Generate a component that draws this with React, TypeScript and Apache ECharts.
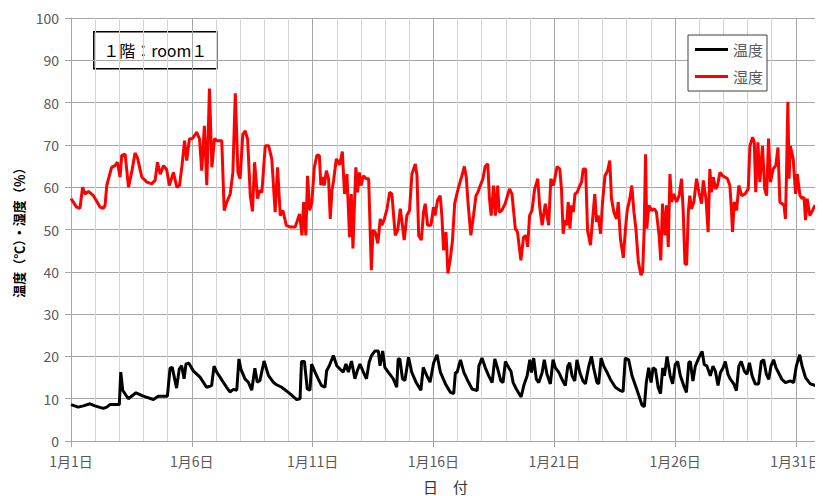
import React, { useEffect, useRef } from "react";
import * as echarts from "echarts";

// day offset from 1月1日 0:00, value
const HUMIDITY: [number, number][] = [
  [0, 57.3], [0.23, 55.3], [0.37, 55], [0.48, 60], [0.58, 58.4], [0.72, 59], [0.93, 58], [1.2, 55.3], [1.34, 55], [1.41, 55.7],
  [1.48, 60.4], [1.68, 64.7], [1.82, 65.1], [1.92, 65.9], [2.03, 62.4], [2.1, 67.5], [2.24, 67.8], [2.38, 60], [2.51, 63.5], [2.65, 68.1],
  [2.75, 67], [2.93, 62.4], [3.14, 61.2], [3.34, 60.8], [3.48, 61.6], [3.58, 65.9], [3.69, 63.1], [3.83, 65.1], [3.96, 64.2], [4.07, 60.4],
  [4.24, 63.5], [4.38, 60], [4.49, 60.4], [4.59, 64.9], [4.7, 71], [4.79, 66.3], [4.9, 71.4], [5.03, 71.5], [5.2, 73], [5.32, 71.4],
  [5.41, 63.9], [5.52, 74.5], [5.62, 60.5], [5.73, 83.3], [5.83, 64.7], [5.94, 71.5], [6.04, 71], [6.24, 71], [6.34, 54.5], [6.45, 56.5],
  [6.59, 58.4], [6.7, 63.5], [6.8, 82.2], [6.91, 63.5], [7.0, 62], [7.11, 72.5], [7.21, 73.3], [7.31, 71.4], [7.42, 58], [7.51, 54.3],
  [7.6, 65.9], [7.72, 57.3], [7.8, 59.2], [7.9, 58.8], [8.04, 69.8], [8.18, 69.8], [8.31, 66.7], [8.45, 54.1], [8.55, 64.7], [8.66, 53.3],
  [8.77, 54.5], [8.91, 51], [9.07, 50.6], [9.28, 50.6], [9.46, 53.7], [9.56, 48.6], [9.63, 56.5], [9.72, 48.6], [9.79, 62.7], [9.88, 54.5],
  [9.97, 56.5], [10.07, 64.7], [10.18, 67.6], [10.28, 67.5], [10.34, 60.5], [10.43, 62.4], [10.48, 60.4], [10.57, 63.9], [10.66, 62], [10.73, 52.5],
  [10.8, 59.2], [10.87, 61.6], [10.98, 66.7], [11.12, 65.3], [11.23, 68.4], [11.32, 58.4], [11.42, 63.1], [11.53, 48.2], [11.6, 58.4], [11.67, 45.5],
  [11.72, 54.1], [11.79, 64.7], [11.86, 58.8], [11.93, 63.5], [12.01, 60.4], [12.1, 62.7], [12.22, 62], [12.32, 62], [12.43, 40.4], [12.5, 49.8],
  [12.59, 49.4], [12.7, 46.7], [12.8, 52.5], [12.87, 51], [12.97, 52.5], [13.08, 54.9], [13.19, 58.8], [13.28, 58.4], [13.42, 48.6], [13.52, 49.8],
  [13.63, 54.9], [13.7, 51.8], [13.79, 47.5], [13.9, 53.3], [14.01, 54.5], [14.11, 63.1], [14.25, 65.5], [14.32, 62.7], [14.39, 48.6], [14.5, 47.5],
  [14.59, 54.1], [14.66, 56.1], [14.76, 51], [14.9, 51], [15.0, 55.3], [15.07, 53.3], [15.17, 56.9], [15.28, 58], [15.35, 53.3], [15.42, 45.1],
  [15.52, 49.4], [15.6, 39.6], [15.7, 43.1], [15.79, 47.5], [15.88, 56.1], [15.97, 58.4], [16.08, 60.8], [16.18, 62.7], [16.28, 64.9], [16.36, 62.4],
  [16.43, 56.5], [16.55, 48.6], [16.66, 53.3], [16.76, 58], [16.84, 58.8], [16.94, 60.4], [17.05, 62], [17.14, 64.9], [17.25, 65.5], [17.32, 57.3],
  [17.39, 53.3], [17.49, 60.4], [17.56, 53.3], [17.66, 60.4], [17.72, 54.1], [17.83, 54.5], [17.97, 56.1], [18.15, 59.6], [18.25, 58.4], [18.39, 50.2],
  [18.48, 49.4], [18.62, 42.7], [18.73, 48.2], [18.83, 48.6], [18.9, 45.9], [18.98, 53.3], [19.08, 54.5], [19.19, 59.6], [19.32, 62], [19.4, 55.3],
  [19.5, 51], [19.63, 56.1], [19.77, 51], [19.86, 62], [19.97, 60.4], [20.12, 64.9], [20.23, 64.3], [20.3, 59.6], [20.37, 49], [20.44, 52.2],
  [20.51, 51], [20.58, 56.5], [20.65, 50.2], [20.72, 55.7], [20.79, 54.1], [20.86, 58.4], [20.95, 58.8], [21.03, 60], [21.13, 61.2], [21.2, 64.3],
  [21.3, 64.3], [21.38, 49.8], [21.5, 46.3], [21.59, 52.5], [21.68, 58.4], [21.75, 51.8], [21.82, 53.3], [21.92, 49], [22, 56.5], [22.1, 62.7],
  [22.21, 63.9], [22.3, 66.3], [22.37, 57.3], [22.47, 54.1], [22.58, 52.5], [22.65, 56.5], [22.74, 47.8], [22.86, 43.3], [22.95, 50.2], [23.02, 54.5],
  [23.13, 57.3], [23.21, 60.4], [23.3, 54.1], [23.38, 50.2], [23.48, 42.4], [23.59, 39.2], [23.66, 40], [23.72, 49.4], [23.78, 67.8], [23.83, 50.2],
  [23.92, 55.7], [24.03, 54.5], [24.14, 54.9], [24.23, 54.1], [24.34, 48.6], [24.41, 42.7], [24.48, 56.1], [24.58, 48.6], [24.65, 55.7], [24.72, 45.9],
  [24.79, 63.1], [24.86, 56.5], [24.95, 58.4], [25.06, 56.5], [25.17, 58], [25.27, 62], [25.34, 54.1], [25.41, 42], [25.48, 41.6], [25.55, 54.1],
  [25.61, 58], [25.68, 54.9], [25.78, 56.5], [25.89, 62], [25.99, 58.8], [26.1, 56.1], [26.17, 61.6], [26.28, 57.3], [26.37, 49.4], [26.44, 64.3],
  [26.51, 58.8], [26.58, 62.4], [26.68, 59.6], [26.76, 60.4], [26.86, 63.5], [26.97, 62.7], [27.06, 62.4], [27.17, 62], [27.27, 60.4], [27.34, 54.1],
  [27.38, 49.4], [27.45, 56.5], [27.55, 54.5], [27.64, 60.4], [27.76, 58], [27.9, 58.4], [28.03, 59.6], [28.1, 69.8], [28.21, 71.8], [28.28, 70.6],
  [28.34, 58.8], [28.43, 70.6], [28.51, 61.2], [28.62, 69.8], [28.71, 59.6], [28.79, 58], [28.87, 71.5], [28.95, 61.2], [29.06, 64.3], [29.17, 65.1],
  [29.26, 69.4], [29.34, 56.5], [29.43, 56.1], [29.51, 55.7], [29.57, 52.5], [29.61, 62], [29.67, 80.2], [29.72, 62], [29.77, 69.8], [29.89, 66.7],
  [29.99, 58.4], [30.06, 63.1], [30.17, 58], [30.26, 57.3], [30.34, 57.6], [30.4, 52.2], [30.47, 57.3], [30.58, 53.3], [30.69, 54.5], [30.79, 55.7],
  [30.88, 54.9], [30.96, 59],
];

const TEMPERATURE: [number, number][] = [
  [0, 8.6], [0.3, 8.0], [0.51, 8.3], [0.79, 8.8], [0.99, 8.3], [1.34, 7.7], [1.48, 8.0], [1.61, 8.6], [2.0, 8.6], [2.06, 16.3],
  [2.14, 12], [2.37, 10], [2.69, 11.4], [2.99, 10.6], [3.41, 9.8], [3.61, 10.6], [3.99, 10.6], [4.1, 17.2], [4.19, 17.4], [4.37, 12.5],
  [4.48, 17.0], [4.58, 17.8], [4.68, 14.7], [4.76, 18.2], [4.88, 18.4], [5.06, 16.6], [5.34, 15.1], [5.61, 12.7], [5.82, 13.1], [5.92, 17.7],
  [6.03, 16.3], [6.17, 15.1], [6.3, 13.9], [6.44, 12.7], [6.58, 11.6], [6.72, 12.2], [6.86, 12], [6.95, 19.4], [7.03, 17], [7.2, 14.7],
  [7.34, 13.9], [7.48, 12], [7.61, 17.2], [7.71, 13.9], [7.82, 14.3], [7.99, 18.9], [8.17, 15.5], [8.37, 13.9], [8.51, 13.3], [8.72, 12.7],
  [9.06, 11.2], [9.34, 9.8], [9.48, 10], [9.54, 18.8], [9.66, 18.8], [9.78, 12.3], [9.89, 12], [9.96, 18.2], [10.1, 16.3], [10.23, 14.7],
  [10.37, 13.1], [10.51, 12.7], [10.58, 16.6], [10.69, 17.8], [10.86, 20.2], [11.0, 17.8], [11.13, 17], [11.27, 16.3], [11.38, 18.2], [11.48, 16.3],
  [11.61, 18.9], [11.75, 14.7], [11.85, 16.6], [11.96, 18.2], [12.1, 16.3], [12.23, 14.7], [12.34, 18.6], [12.44, 20.2], [12.58, 21.3], [12.72, 21.3],
  [12.79, 17.8], [12.9, 21.3], [12.99, 17.4], [13.13, 16.3], [13.34, 14.7], [13.48, 12.7], [13.54, 19.4], [13.61, 19.4], [13.72, 14.7], [13.82, 14.3],
  [13.97, 19.8], [14.1, 16.3], [14.28, 13.9], [14.48, 12], [14.58, 17.4], [14.72, 15.5], [14.86, 13.9], [15.01, 18.5], [15.15, 20.4], [15.29, 16.2],
  [15.5, 13.5], [15.7, 11.5], [15.84, 11.2], [15.91, 16.2], [15.98, 16.2], [16.12, 19.2], [16.26, 16.2], [16.39, 14.6], [16.6, 12.3], [16.81, 11.9],
  [16.88, 17.7], [17.01, 19.6], [17.15, 17.3], [17.29, 15.4], [17.43, 13.8], [17.54, 19.4], [17.63, 17.7], [17.79, 14.2], [17.88, 13.8], [17.98, 18.8],
  [18.12, 17.3], [18.21, 16.5], [18.3, 13.8], [18.43, 12.3], [18.63, 10.4], [18.74, 13.1], [18.88, 15.4], [18.99, 19.2], [19.06, 16.2], [19.15, 19.6],
  [19.26, 14.6], [19.36, 13.8], [19.5, 16.2], [19.59, 19.2], [19.7, 15.8], [19.84, 13.5], [19.95, 19.2], [20.05, 17.3], [20.19, 16.2], [20.32, 14.6],
  [20.46, 13.1], [20.56, 17.7], [20.64, 18.5], [20.74, 15.4], [20.85, 14.2], [20.94, 19.2], [21.06, 16.2], [21.19, 14.2], [21.29, 13.5], [21.43, 17.7],
  [21.54, 20], [21.63, 17.3], [21.77, 13.8], [21.84, 13.5], [21.94, 19.6], [22.05, 17.7], [22.19, 16.2], [22.32, 14.6], [22.53, 12.7], [22.74, 11.9],
  [22.85, 11.7], [22.94, 19.6], [23.08, 19.2], [23.22, 15.4], [23.36, 13.1], [23.5, 10.8], [23.63, 8.5], [23.73, 8.1], [23.81, 13.8], [23.91, 17.3],
  [24.01, 13.8], [24.09, 17.3], [24.19, 16.9], [24.3, 12.7], [24.4, 11.2], [24.49, 17.3], [24.56, 15.4], [24.67, 20], [24.8, 15.4], [24.9, 13.5],
  [25.01, 18.1], [25.11, 18.8], [25.22, 15.4], [25.36, 13.1], [25.47, 11.5], [25.57, 18.5], [25.63, 18.8], [25.74, 14.2], [25.84, 17.7], [25.98, 19.6],
  [26.12, 21.2], [26.21, 18.1], [26.32, 17.7], [26.46, 15.4], [26.57, 17.7], [26.67, 16.5], [26.78, 13.1], [26.88, 16.2], [26.99, 17.3], [27.08, 18.8],
  [27.19, 15.8], [27.29, 14.6], [27.43, 13.5], [27.54, 11.9], [27.64, 17.7], [27.74, 18.8], [27.87, 16.5], [27.98, 15.8], [28.08, 18.5], [28.19, 15.4],
  [28.32, 13.5], [28.46, 13.5], [28.57, 18.8], [28.67, 19.2], [28.78, 15.8], [28.88, 14.6], [28.97, 17.7], [29.08, 19.2], [29.18, 17.3], [29.28, 16.2],
  [29.42, 14.6], [29.57, 13.8], [29.77, 14.2], [29.91, 13.8], [30.02, 17.7], [30.16, 20.4], [30.26, 17.7], [30.4, 15], [30.6, 13.5], [30.81, 13.1],
  [30.91, 12.7], [30.98, 18.1],
];

const SERIES_NAMES = ["温度", "湿度"];
const TITLE_TEXT = "１階：room１";
const Y_NAME = "温度（℃）・湿度（％）";
const X_NAME = "日　付";
const MONTH = 1;

const FONT = '"Noto Sans CJK JP", "Noto Sans", sans-serif';

export default function App() {
  const ref = useRef<HTMLDivElement>(null);
  useEffect(() => {
    if (!ref.current) return;
    const chart = echarts.init(ref.current, null, { renderer: "svg" });
    chart.setOption({
      animation: false,
      backgroundColor: "#fff",
      textStyle: { fontFamily: FONT },
      grid: { left: 71, right: 3, top: 18, bottom: 55, containLabel: false, outerBoundsMode: "none" },
      legend: {
        data: SERIES_NAMES,
        orient: "vertical",
        left: 688,
        top: 35,
        icon: "rect",
        itemWidth: 33,
        itemHeight: 3,
        itemGap: 12,
        padding: [7, 4, 7, 7],
        borderColor: "#404040",
        borderWidth: 1,
        borderRadius: 0,
        backgroundColor: "#fff",
        textStyle: { fontSize: 15, color: "#595959", fontFamily: FONT },
      },
      xAxis: [
        {
          type: "value",
          position: "bottom",
          min: 0,
          max: 31,
          interval: 1,
          axisLine: { show: false },
          axisTick: { show: false },
          axisLabel: { show: false },
          splitLine: { show: true, lineStyle: { color: "#d3d3d3", width: 1 } },
        },
        {
          type: "value",
          position: "bottom",
          min: 0,
          max: 31,
          interval: 5,
          name: X_NAME,
          nameLocation: "middle",
          nameGap: 38,
          nameTextStyle: { fontSize: 15, color: "#333", fontFamily: FONT },
          axisLine: { show: true, lineStyle: { color: "#a6a6a6", width: 1 } },
          axisTick: { show: true, length: 6, lineStyle: { color: "#a6a6a6" } },
          axisLabel: {
            fontSize: 14,
            color: "#595959",
            margin: 13,
            showMaxLabel: false,
            formatter: (v: number) => (v % 5 === 0 ? `${MONTH}月${v + 1}日` : ""),
          },
          splitLine: { show: true, lineStyle: { color: "#a6a6a6", width: 1 } },
        },
      ],
      yAxis: {
        type: "value",
        min: 0,
        max: 100,
        interval: 10,
        name: Y_NAME,
        nameLocation: "middle",
        nameGap: 46,
        nameRotate: 90,
        nameTextStyle: { fontSize: 13, fontWeight: "bold", color: "#000", fontFamily: FONT },
        axisLine: { show: true, lineStyle: { color: "#a6a6a6", width: 1 } },
        axisTick: { show: true, length: 6, lineStyle: { color: "#a6a6a6" } },
        axisLabel: { fontSize: 14, color: "#595959", margin: 12 },
        splitLine: { show: true, lineStyle: { color: "#a6a6a6", width: 1 } },
      },
      graphic: [
        {
          type: "group",
          left: 93,
          top: 31,
          children: [
            {
              type: "rect",
              shape: { x: 0, y: 0, width: 123, height: 37 },
              style: { fill: "#fff", stroke: "#000", lineWidth: 1.5 },
            },
            {
              type: "text",
              x: 61.5,
              y: 18.5,
              style: {
                text: TITLE_TEXT,
                fill: "#000",
                font: `16px ${FONT}`,
                textAlign: "center",
                textVerticalAlign: "middle",
              },
            },
          ],
        },
      ],
      series: [
        {
          name: SERIES_NAMES[0],
          type: "line",
          xAxisIndex: 1,
          data: TEMPERATURE,
          showSymbol: false,
          lineStyle: { color: "#000", width: 3 },
          itemStyle: { color: "#000" },
          z: 3,
        },
        {
          name: SERIES_NAMES[1],
          type: "line",
          xAxisIndex: 1,
          data: HUMIDITY,
          showSymbol: false,
          lineStyle: { color: "#ff0000", width: 3 },
          itemStyle: { color: "#ff0000" },
          z: 3,
        },
      ],
    });
    return () => chart.dispose();
  }, []);
  return <div ref={ref} style={{ width: 823, height: 496, marginLeft: -8, marginTop: -8 }} />;
}
